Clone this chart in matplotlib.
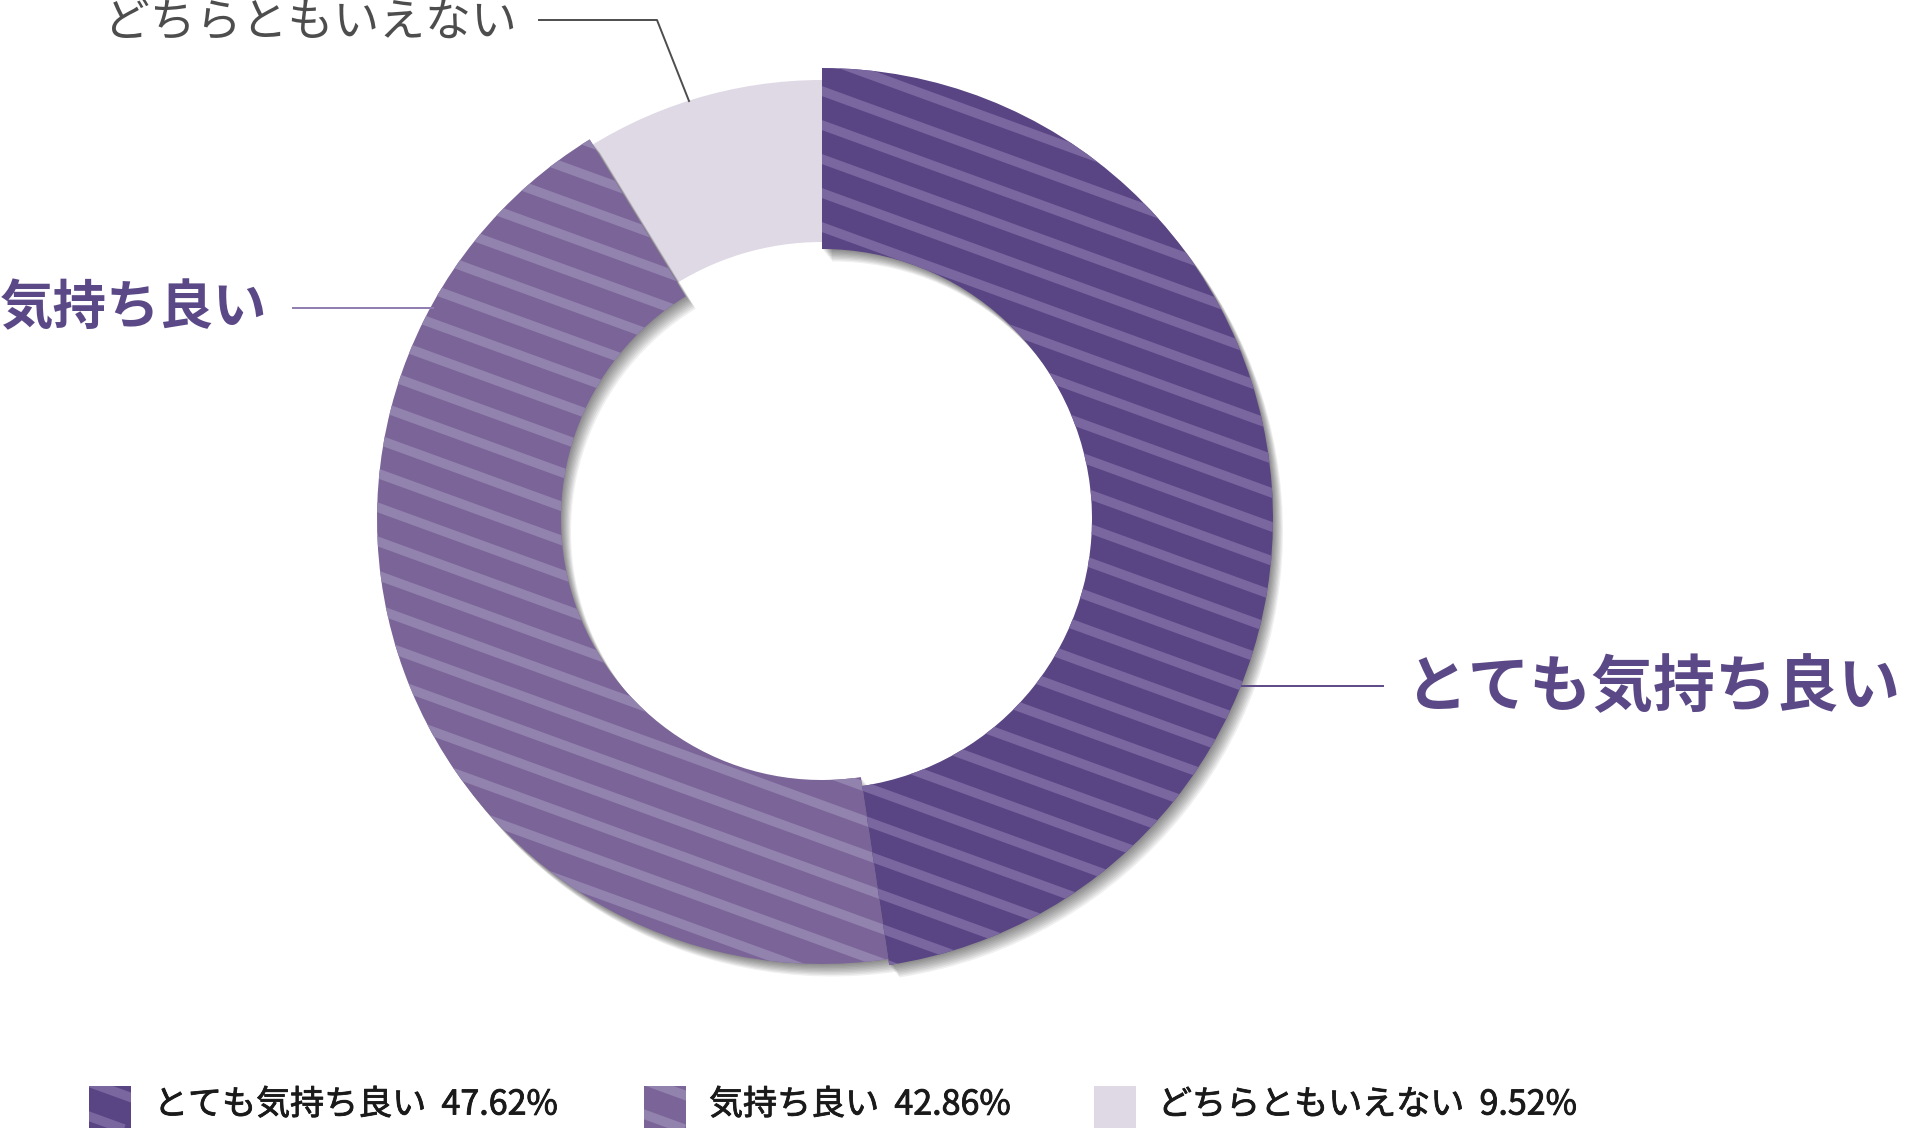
import numpy as np
import matplotlib
matplotlib.use("Agg")
from matplotlib import pyplot as plt
from matplotlib.patches import Rectangle
from matplotlib.collections import LineCollection
import matplotlib.patheffects as pe

plt.rcParams['font.family'] = ['Noto Sans CJK JP', 'DejaVu Sans']

# data
labels = ['とても気持ち良い', '気持ち良い', 'どちらともいえない']
values = [47.62, 42.86, 9.52]

# styles
base_colors = ['#594583', '#7b6598', '#dfd9e6']
stripe_colors = ['#7a67a0', '#9282ae', None]
label_colors = ['#5b4886', '#5b4886', '#4d4d4d']
leader_colors = ['#5b4886', '#8e7cb0', '#4d4d4d']

W, H = 1905, 1128
fig = plt.figure(figsize=(W / 100, H / 100), dpi=100)
ax = fig.add_axes([0, 0, 1, 1])

cx, cy = 822, H - 519
wedges, _ = ax.pie(values, startangle=90, counterclock=False, center=(cx, cy),
                   radius=451, colors=base_colors,
                   wedgeprops=dict(width=181, linewidth=0))
# per-slice ring sizes, the middle slice overlaps the light one a little
wedges[1].set_radius(445); wedges[1].set_width(184)
wedges[1].set_theta1(wedges[1].theta1 - 2.8)
wedges[2].set_radius(439); wedges[2].set_width(162)
for z, w in zip([3, 2, 1], wedges):
    w.set_zorder(z)

shadow = [pe.SimplePatchShadow(offset=(0.8 * k, -1.0 * k), shadow_rgbFace='black', alpha=0.06)
          for k in range(1, 10)]
for w in wedges[:2]:
    w.set_path_effects(shadow + [pe.Normal()])

# diagonal stripe pattern
slope = -0.364
segs = []
for k in range(-60, 60):
    b = (H - 90) - 34 * k - slope * 819
    segs.append([(0, b), (W, b + slope * W)])


def add_stripes(patch, color, z):
    lc = LineCollection(segs, colors=color, linewidths=6.8, capstyle='butt', zorder=z)
    ax.add_collection(lc)
    lc.set_clip_path(patch)


for i in range(2):
    add_stripes(wedges[i], stripe_colors[i], wedges[i].get_zorder() + 0.5)

# slice labels with leader lines
ax.text(1406, H - 688, labels[0], fontsize=44.5, fontweight='bold', color=label_colors[0],
        ha='left', va='center', zorder=5)
ax.plot([1242, 1383], [H - 686, H - 686], color=leader_colors[0], lw=1.4, zorder=5)

ax.text(0, H - 309, labels[1], fontsize=38.5, fontweight='bold', color=label_colors[1],
        ha='left', va='center', zorder=5)
ax.plot([293, 433], [H - 308, H - 308], color=leader_colors[1], lw=1.4, zorder=5)

ax.text(104, H - 23, labels[2], fontsize=33, color=label_colors[2],
        ha='left', va='center', zorder=5)
ax.plot([539, 657, 689], [H - 20, H - 20, H - 101], color=leader_colors[2], lw=1.4, zorder=5)

# legend
leg_box_x = [89, 644, 1094]
leg_text_x = [154, 709, 1158]
for i in range(3):
    r = Rectangle((leg_box_x[i], 0), 42, 42, facecolor=base_colors[i], linewidth=0, zorder=4)
    ax.add_patch(r)
    if stripe_colors[i]:
        add_stripes(r, stripe_colors[i], 4.5)
    t = ax.text(leg_text_x[i], H - 1105, f"{labels[i]}  {values[i]:.2f}%", fontsize=24.5,
                color='#1a1a1a', ha='left', va='center', zorder=5)
    t.set_path_effects([pe.withStroke(linewidth=0.6, foreground='#1a1a1a')])

ax.set_xlim(0, W)
ax.set_ylim(0, H)
ax.set_aspect('equal')
ax.axis('off')
fig.savefig('out.png', dpi=100)
